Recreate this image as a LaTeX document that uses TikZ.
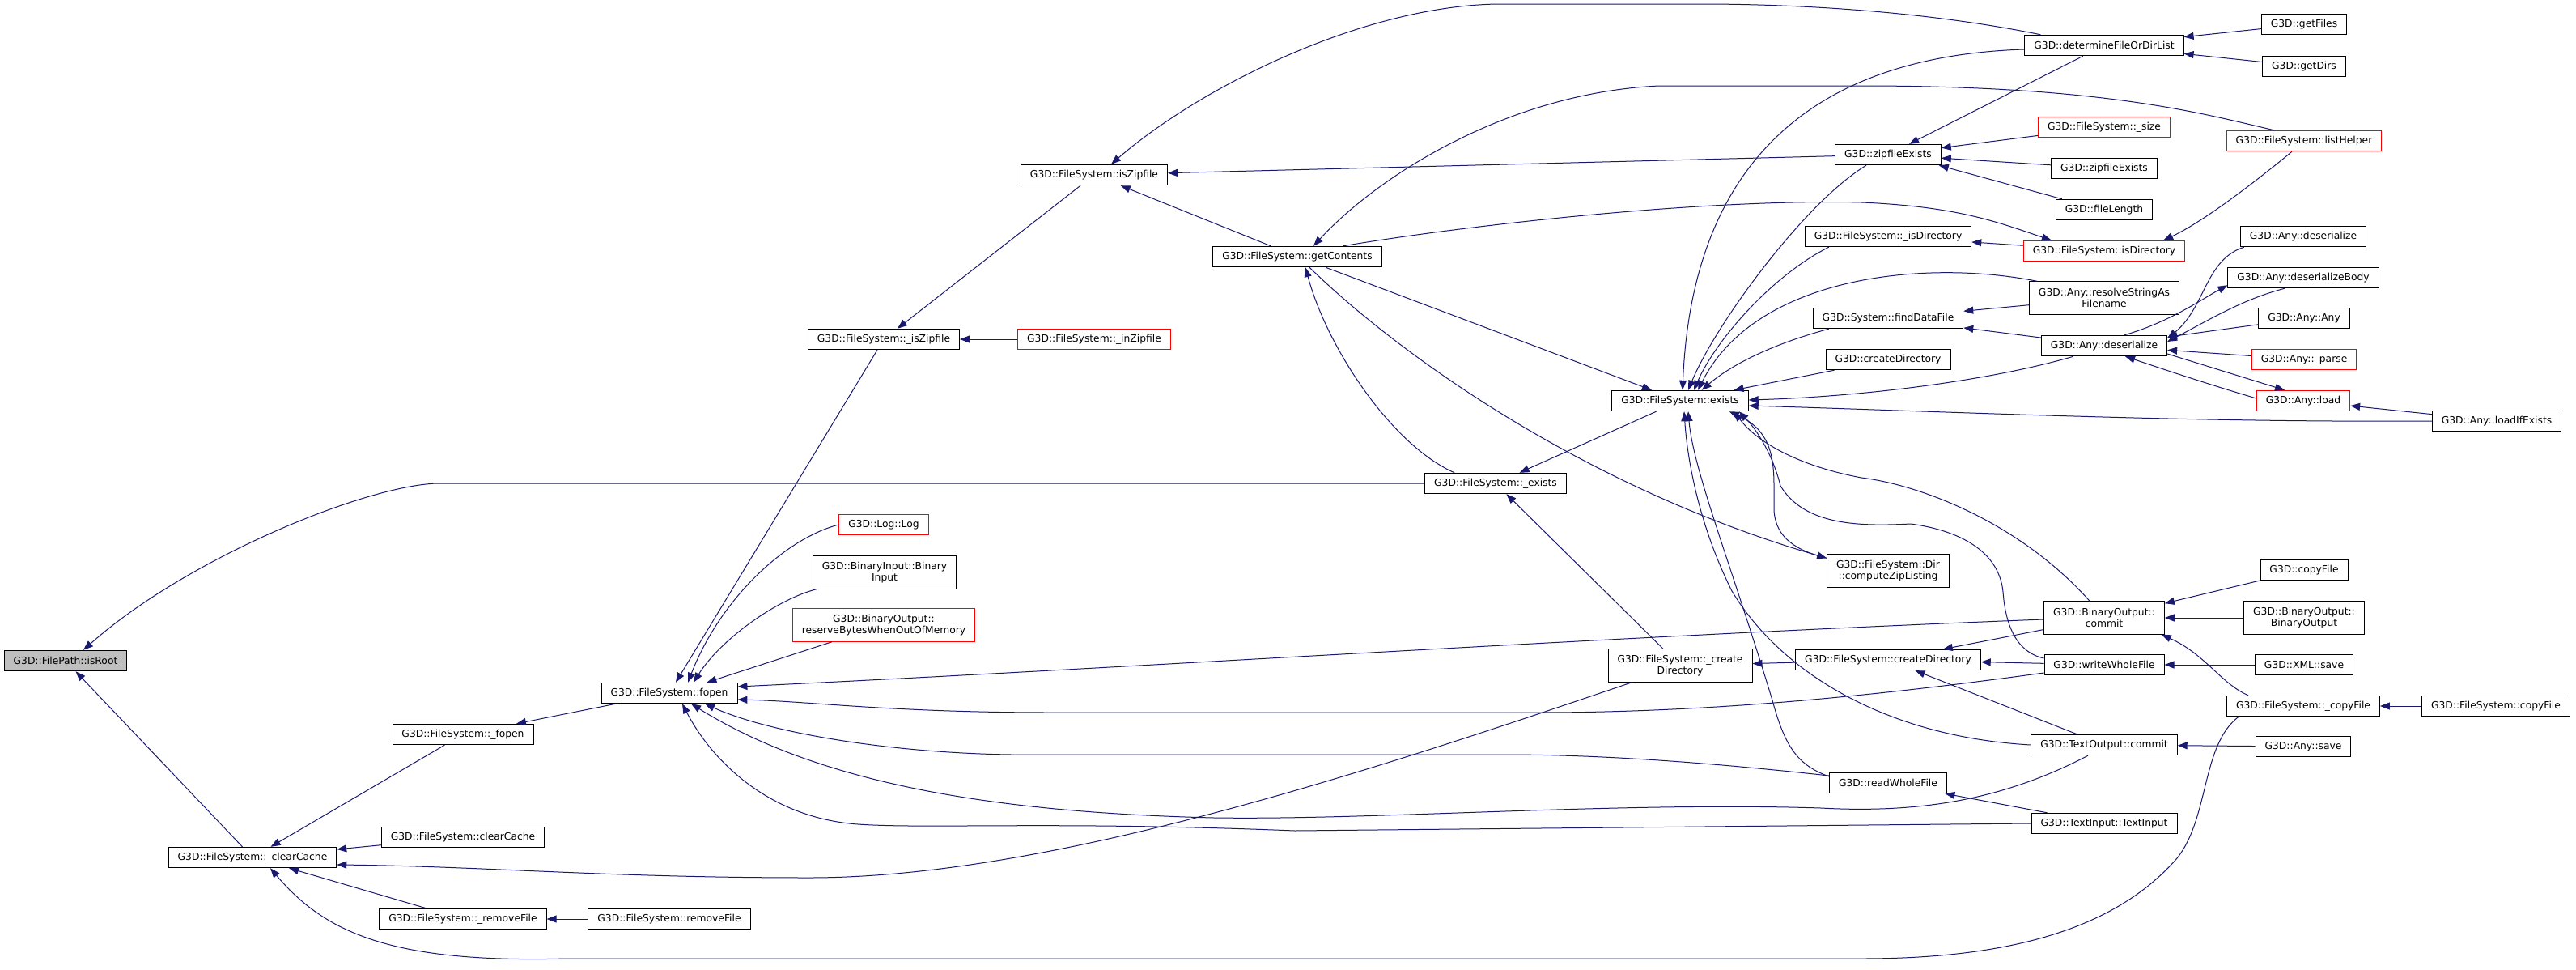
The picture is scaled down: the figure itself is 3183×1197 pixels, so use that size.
\documentclass[tikz,border=0pt]{standalone}
\usepackage{fontspec}
\setmainfont{DejaVu Sans}
\usetikzlibrary{arrows.meta, calc}
\definecolor{edgeblue}{RGB}{25, 25, 112}
\definecolor{rootgray}{RGB}{191, 191, 191}
\definecolor{truncred}{RGB}{255, 0, 0}

\tikzset{
  fn/.style={draw=black, line width=0.9pt, fill=white, rectangle, inner xsep=11.5pt, inner ysep=4pt,
    minimum height=25.5pt, align=center, font=\fontsize{12.3}{13.8}\selectfont},
  fnred/.style={fn, draw=truncred},
  fnroot/.style={fn, fill=rootgray},
  twoline/.style={minimum height=40.5pt},
  call/.style={draw=edgeblue, line width=1pt, -{Triangle[length=12pt, width=9pt]}},
}

\begin{document}
\begin{tikzpicture}[x=1pt, y=-1pt]
  \fill[white] (0,0) rectangle (3183,1197);
  \useasboundingbox (0,0) rectangle (3183,1197);

  % Root and first callers
  \node[fnroot] (isroot) at (81, 816) {G3D::FilePath::isRoot};
  \node[fn] (clearcachep) at (312, 1059) {G3D::FileSystem::\_clearCache};
  \node[fn] (fopenp) at (572, 907) {G3D::FileSystem::\_fopen};
  \node[fn] (clearcache) at (572, 1034) {G3D::FileSystem::clearCache};
  \node[fn] (removefilep) at (572, 1135) {G3D::FileSystem::\_removeFile};
  \node[fn] (removefile) at (827, 1135) {G3D::FileSystem::removeFile};
  \node[fn] (fopen) at (827, 856) {G3D::FileSystem::fopen};

  % Callers of fopen
  \node[fnred] (loglog) at (1092, 648) {G3D::Log::Log};
  \node[fn, twoline] (binin) at (1093, 707) {G3D::BinaryInput::Binary\\Input};
  \node[fnred, twoline] (reservebytes) at (1092, 772) {G3D::BinaryOutput::\\reserveBytesWhenOutOfMemory};
  \node[fn] (iszipfilep) at (1092, 419) {G3D::FileSystem::\_isZipfile};
  \node[fn] (iszipfile) at (1352, 216) {G3D::FileSystem::isZipfile};
  \node[fnred] (inzipfilep) at (1352, 419) {G3D::FileSystem::\_inZipfile};
  \node[fn] (getcontents) at (1603, 317) {G3D::FileSystem::getContents};
  \node[fn] (existsp) at (1848, 597) {G3D::FileSystem::\_exists};
  \node[fn] (exists) at (2076, 495) {G3D::FileSystem::exists};
  \node[fn, twoline] (createdirp) at (2076, 822) {G3D::FileSystem::\_create\\Directory};

  % Callers of exists
  \node[fn] (determine) at (2600, 56) {G3D::determineFileOrDirList};
  \node[fn] (zipexists) at (2333, 191) {G3D::zipfileExists};
  \node[fnred] (sizep) at (2600, 157) {G3D::FileSystem::\_size};
  \node[fn] (zipexists2) at (2600, 208) {G3D::zipfileExists};
  \node[fn] (filelength) at (2600, 259) {G3D::fileLength};
  \node[fn] (isdirp) at (2333, 292) {G3D::FileSystem::\_isDirectory};
  \node[fnred] (isdir) at (2600, 310) {G3D::FileSystem::isDirectory};
  \node[fn, twoline] (resolve) at (2600, 368) {G3D::Any::resolveStringAs\\Filename};
  \node[fn] (finddata) at (2333, 393) {G3D::System::findDataFile};
  \node[fn] (deser) at (2600, 427) {G3D::Any::deserialize};
  \node[fn] (createdirg) at (2333, 444) {G3D::createDirectory};
  \node[fn, twoline] (ziplisting) at (2333, 705) {G3D::FileSystem::Dir\\::computeZipListing};
  \node[fn, twoline] (bocommit) at (2600, 763) {G3D::BinaryOutput::\\commit};
  \node[fn] (createdir) at (2333, 815) {G3D::FileSystem::createDirectory};
  \node[fn] (writewhole) at (2600, 821) {G3D::writeWholeFile};
  \node[fn] (tocommit) at (2600, 920) {G3D::TextOutput::commit};
  \node[fn] (readwhole) at (2333, 967) {G3D::readWholeFile};
  \node[fn] (textinput) at (2600, 1017) {G3D::TextInput::TextInput};

  % Outer column
  \node[fn] (getfiles) at (2847, 30) {G3D::getFiles};
  \node[fn] (getdirs) at (2847, 82) {G3D::getDirs};
  \node[fnred] (listhelper) at (2847, 174) {G3D::FileSystem::listHelper};
  \node[fn] (deser2) at (2846, 292) {G3D::Any::deserialize};
  \node[fn] (deserbody) at (2846, 343) {G3D::Any::deserializeBody};
  \node[fn] (anyany) at (2847, 393) {G3D::Any::Any};
  \node[fnred] (parsep) at (2847, 444) {G3D::Any::\_parse};
  \node[fnred] (load) at (2846, 495) {G3D::Any::load};
  \node[fn] (loadifexists) at (3085, 520) {G3D::Any::loadIfExists};
  \node[fn] (copyfileg) at (2847, 704) {G3D::copyFile};
  \node[fn, twoline] (boconstr) at (2847, 763) {G3D::BinaryOutput::\\BinaryOutput};
  \node[fn] (xmlsave) at (2847, 821) {G3D::XML::save};
  \node[fn] (copyfilep) at (2846, 872) {G3D::FileSystem::\_copyFile};
  \node[fn] (copyfile) at (3084, 872) {G3D::FileSystem::copyFile};
  \node[fn] (anysave) at (2846, 922) {G3D::Any::save};

  % Calls into isRoot and _clearCache
  \draw[call] (existsp.west) -- (540,597) .. controls (450,600) and (230,690) .. ($(isroot.north)+(22,0)$);
  \draw[call] (clearcachep) -- (isroot);
  \draw[call] (fopenp) -- (clearcachep);
  \draw[call] (clearcache) -- (clearcachep);
  \draw[call] ($(createdirp.south west)+(30,0)$) .. controls (1700,950) and (1300,1084) .. (1000,1084)
    .. controls (750,1084) and (600,1070) .. ($(clearcachep.east)+(0,9)$);
  \draw[call] (removefilep) -- (clearcachep);
  \draw[call] ($(copyfilep.south west)+(15,0)$) .. controls (2720,920) and (2730,1010) .. (2690,1060)
    .. controls (2620,1140) and (2500,1184) .. (2300,1184) -- (700,1184)
    .. controls (480,1190) and (400,1150) .. ($(clearcachep.south)+(22,0)$);
  \draw[call] (removefile) -- (removefilep);
  \draw[call] (fopen) -- (fopenp);

  % Calls into fopen
  \draw[call] (iszipfilep) -- (fopen);
  \draw[call] (loglog.west) .. controls (970,665) and (890,740) .. ($(fopen.north)+(23,0)$);
  \draw[call] ($(binin.south west)+(5,0)$) .. controls (960,740) and (890,790) .. ($(fopen.north)+(30,0)$);
  \draw[call] ($(reservebytes.south)+(-64,0)$) -- ($(fopen.north east)+(-38,0)$);
  \draw[call] ($(bocommit.west)+(0,2)$) .. controls (2000,785) and (1400,825) .. ($(fopen.east)+(0,-8)$);
  \draw[call] ($(writewhole.west)+(0,10)$) .. controls (2300,862) and (2100,880) .. (1900,880) -- (1300,880)
    .. controls (1100,880) and (1000,866) .. ($(fopen.east)+(0,8)$);
  \draw[call] ($(readwhole.west)+(0,-9)$) .. controls (2150,946) and (2000,932) .. (1860,932) -- (1250,932)
    .. controls (1100,930) and (950,905) .. ($(fopen.south)+(44,0)$);
  \draw[call] ($(tocommit.south)+(-20,0)$) .. controls (2480,985) and (2380,1005) .. (2250,998)
    .. controls (2000,990) and (1700,1013) .. (1500,1010)
    .. controls (1200,1003) and (1000,960) .. ($(fopen.south)+(27,0)$);
  \draw[call] (textinput.west) -- (1600,1026) .. controls (1300,1014) and (1150,1024) .. (1060,1018)
    .. controls (950,1010) and (880,940) .. ($(fopen.south)+(16,0)$);

  % Zipfile and getContents
  \draw[call] (iszipfile) -- (iszipfilep);
  \draw[call] (inzipfilep) -- (iszipfilep);
  \draw[call] ($(determine.north west)+(20,0)$) .. controls (2400,18) and (2250,5) .. (2100,5) -- (1850,5)
    .. controls (1680,8) and (1480,110) .. ($(iszipfile.north)+(21,0)$);
  \draw[call] (zipexists) -- (iszipfile);
  \draw[call] (getcontents) -- (iszipfile);
  \draw[call] ($(listhelper.north)+(-37,0)$) .. controls (2720,140) and (2600,106) .. (2300,106) -- (2050,106)
    .. controls (1860,115) and (1700,220) .. ($(getcontents.north)+(20,0)$);
  \draw[call] ($(existsp.north west)+(37,0)$) .. controls (1720,550) and (1640,430) .. ($(getcontents.south)+(10,0)$);
  \draw[call] (exists) -- (existsp);
  \draw[call] (createdirp) -- (existsp);
  \draw[call] (getcontents) -- (exists);
  \draw[call] ($(getcontents.south)+(15,0)$) .. controls (1720,430) and (1950,600) .. ($(ziplisting.north west)+(0,5)$);
  \draw[call] ($(getcontents.north east)+(-48,0)$) .. controls (1800,280) and (2100,245) .. (2300,250)
    .. controls (2420,255) and (2470,275) .. ($(isdir.north west)+(35,0)$);

  % Calls into exists
  \draw[call] ($(determine.west)+(0,5)$) .. controls (2220,70) and (2090,220) .. ($(exists.north)+(3,0)$);
  \draw[call] ($(zipexists.south)+(-27,0)$) .. controls (2230,250) and (2120,400) .. ($(exists.north)+(10,0)$);
  \draw[call] ($(isdirp.south west)+(30,0)$) .. controls (2190,340) and (2120,420) .. ($(exists.north)+(17,0)$);
  \draw[call] ($(resolve.north west)+(10,0)$) .. controls (2380,320) and (2170,340) .. ($(exists.north)+(22,0)$);
  \draw[call] ($(finddata.south west)+(20,0)$) .. controls (2190,425) and (2140,450) .. ($(exists.north east)+(-58,0)$);
  \draw[call] (createdirg) -- (exists);
  \draw[call] ($(deser.south west)+(40,0)$) .. controls (2460,470) and (2300,490) .. ($(exists.east)+(0,-1)$);
  \draw[call] (loadifexists.west) .. controls (2700,522) and (2400,508) .. ($(exists.east)+(0,6)$);
  \draw[call] ($(bocommit.north)+(-18,0)$) .. controls (2500,650) and (2380,600) .. (2300,590)
    .. controls (2220,575) and (2170,545) .. ($(exists.south east)+(-18,0)$);
  \draw[call] ($(readwhole.west)+(0,-8)$) .. controls (2220,945) and (2205,920) .. (2190,865)
    .. controls (2140,700) and (2092,580) .. ($(exists.south)+(10,0)$);
  \draw[call] (tocommit.west) .. controls (2330,910) and (2200,830) .. (2140,730)
    .. controls (2100,650) and (2085,570) .. ($(exists.south)+(5,0)$);
  \draw[call] ($(ziplisting.north west)+(0,5)$) .. controls (2220,680) and (2194,665) .. (2192,630) -- (2192,600)
    .. controls (2192,560) and (2185,530) .. ($(exists.south east)+(-24,0)$);
  \draw[call] ($(writewhole.west)+(0,-8)$) .. controls (2490,805) and (2478,770) .. (2475,731)
    .. controls (2470,680) and (2420,655) .. (2361,647)
    .. controls (2300,650) and (2230,650) .. (2200,600)
    .. controls (2190,560) and (2170,530) .. ($(exists.south east)+(-12,0)$);

  % Right-hand callers
  \draw[call] (getfiles) -- (determine);
  \draw[call] (getdirs) -- (determine);
  \draw[call] (determine) -- (zipexists);
  \draw[call] (sizep) -- (zipexists);
  \draw[call] (zipexists2) -- (zipexists);
  \draw[call] ($(filelength.north west)+(8,0)$) -- ($(zipexists.south east)+(-3,0)$);
  \draw[call] (isdir) -- (isdirp);
  \draw[call] ($(listhelper.south)+(-15,0)$) .. controls (2780,230) and (2720,275) .. ($(isdir.north east)+(-27,0)$);
  \draw[call] (resolve) -- (finddata);
  \draw[call] (deser) -- (finddata);
  \draw[call] ($(deser2.south west)+(5,0)$) .. controls (2725,320) and (2725,380) .. ($(deser.east)+(0,-9)$);
  \draw[call] ($(deserbody.south)+(-23,0)$) .. controls (2770,370) and (2730,395) .. ($(deser.east)+(0,-5)$);
  \draw[call] ($(deser.north)+(25,0)$) .. controls (2680,398) and (2720,370) .. ($(deserbody.south west)+(0,-4)$);
  \draw[call] (anyany) -- (deser);
  \draw[call] (parsep) -- (deser);
  \draw[call] ($(load.west)+(0,-3)$) .. controls (2730,475) and (2670,455) .. ($(deser.south)+(26,0)$);
  \draw[call] ($(deser.east)+(0,10)$) -- ($(load.north)+(-23,0)$);
  \draw[call] (loadifexists) -- (load);
  \draw[call] (createdir) -- (createdirp);
  \draw[call] (bocommit) -- (createdir);
  \draw[call] (writewhole) -- (createdir);
  \draw[call] (tocommit) -- (createdir);
  \draw[call] (textinput) -- (readwhole);
  \draw[call] (copyfileg) -- (bocommit);
  \draw[call] (boconstr) -- (bocommit);
  \draw[call] ($(copyfilep.north west)+(27,0)$) .. controls (2745,845) and (2725,808) .. ($(bocommit.south east)+(-4,0)$);
  \draw[call] (xmlsave) -- (writewhole);
  \draw[call] (anysave) -- (tocommit);
  \draw[call] (copyfile) -- (copyfilep);
\end{tikzpicture}
\end{document}
